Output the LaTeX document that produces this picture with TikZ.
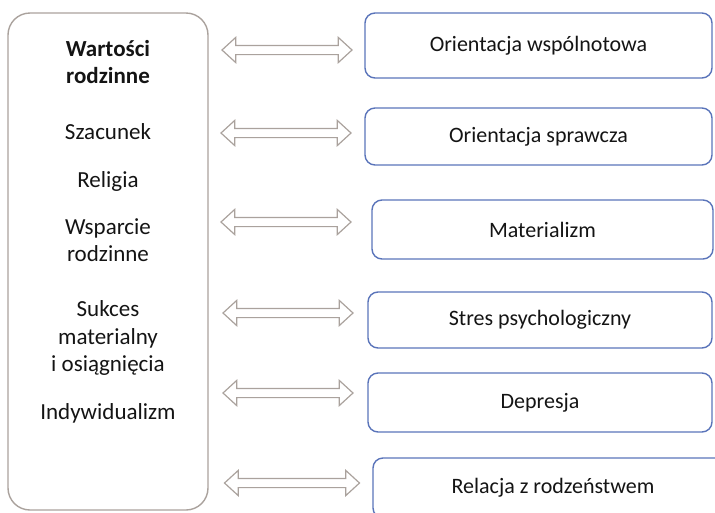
\documentclass[tikz,border=0pt]{standalone}
\usepackage{fontspec}
\setmainfont{Carlito}
\usetikzlibrary{shapes.arrows}
\definecolor{boxblue}{RGB}{90,116,186}
\definecolor{boxgray}{RGB}{170,162,157}
\definecolor{txt}{RGB}{20,20,20}

\begin{document}
\begin{tikzpicture}[x=1pt, y=-1pt,
    every node/.style={font=\fontsize{22}{27}\selectfont, text=txt},
    valuebox/.style={draw=boxgray, line width=1.4pt, rounded corners=22pt,
        minimum width=200pt, minimum height=497pt},
    label/.style={align=center, inner sep=0pt, font=\fontsize{23}{27.5}\selectfont},
    factor/.style={draw=boxblue, line width=1.4pt, rounded corners=10pt, inner sep=0pt},
    biarrow/.style={double arrow, draw=boxgray, line width=1.2pt, inner sep=4pt,
        minimum height=130pt, double arrow head extend=8pt, double arrow tip angle=85}]
    \useasboundingbox (0,0) rectangle (715,512);

    % left column
    \node[valuebox] (values) at (108,261.5) {};
    \node[label, font=\fontsize{23}{27.5}\selectfont\bfseries] (family) at (108,62) {Wartości\\rodzinne};
    \node[label] (respect) at (108,132) {Szacunek};
    \node[label] (religion) at (108,181) {Religia};
    \node[label] (support) at (108,240) {Wsparcie\\rodzinne};
    \node[label] (success) at (108,338) {Sukces\\materialny\\i osiągnięcia};
    \node[label] (indiv) at (108,413) {Indywidualizm};

    % right column
    \node[factor, minimum width=347pt, minimum height=65pt] (community) at (538.5,45.5) {Orientacja wspólnotowa};
    \node[factor, minimum width=347pt, minimum height=57pt] (agency) at (538.5,136.5) {Orientacja sprawcza};
    \node[factor, minimum width=341pt, minimum height=59pt] (material) at (542.5,229.5) {Materializm};
    \node[factor, minimum width=344pt, minimum height=56pt] (stress) at (540,320) {Stres psychologiczny};
    \node[factor, minimum width=344pt, minimum height=59pt] (depr) at (540,402.5) {Depresja};
    \node[factor, minimum width=360pt, minimum height=60pt] (sibling) at (553,488) {Relacja z rodzeństwem};

    % arrows
    \node[biarrow] (a1) at (287,50) {};
    \node[biarrow] (a2) at (286,133) {};
    \node[biarrow] (a3) at (286,222) {};
    \node[biarrow] (a4) at (288,313) {};
    \node[biarrow] (a5) at (288,393) {};
    \node[biarrow, minimum height=135pt] (a6) at (292,483) {};
\end{tikzpicture}
\end{document}
